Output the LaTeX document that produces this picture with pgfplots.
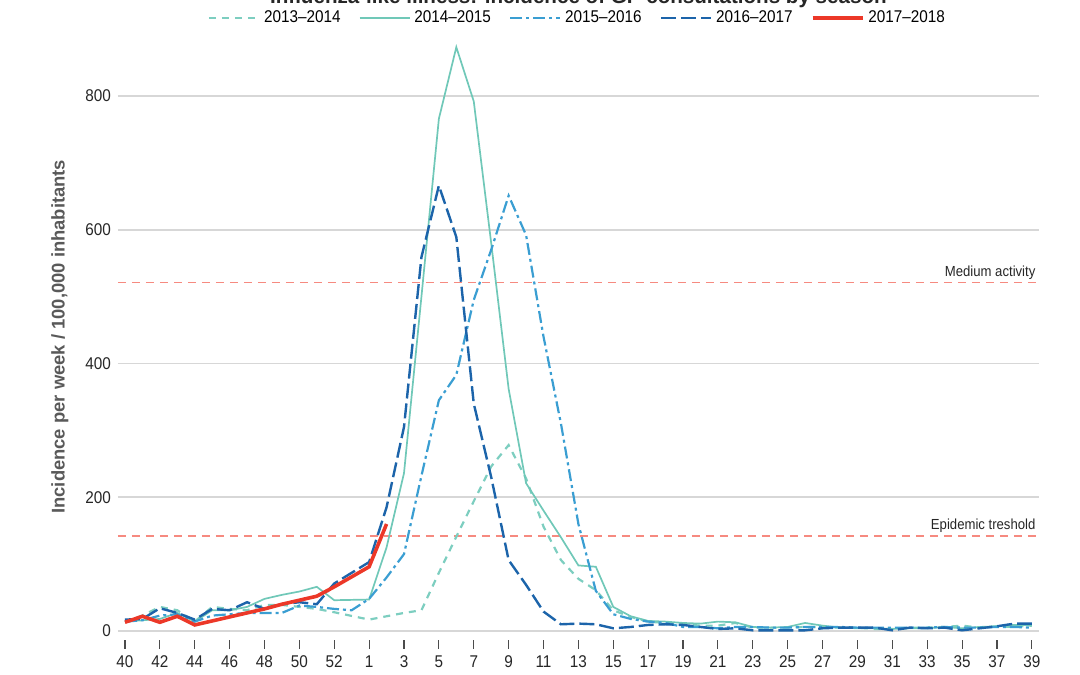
\documentclass[border=0pt]{standalone}
\usepackage{fontspec}
\setmainfont{Liberation Sans}
\newfontfamily\narrow{Liberation Sans}[FakeStretch=0.9, Ligatures=TeX]
\usepackage{pgfplots}
\pgfplotsset{compat=1.18}
\usetikzlibrary{calc}
\definecolor{tealA}{RGB}{125,206,192}
\definecolor{tealB}{RGB}{112,200,184}
\definecolor{blueA}{RGB}{58,158,210}
\definecolor{blueB}{RGB}{28,100,170}
\definecolor{redA}{RGB}{236,56,40}
\definecolor{salmon}{RGB}{246,138,128}
\definecolor{gridg}{RGB}{215,215,215}

\pgfplotstableread{
x y
0 14
1 23
2 36
3 31
4 14
5 36
6 33
7 31
8 39
9 39
10 36
11 33
12 28
14 17
15 22
16 27
17 31
18 87
19 141
20 194
21 246
22 278
23 228
24 156
25 106
26 78
27 61
28 31
29 21
30 14
31 12
32 10
33 8
34 8
35 12
36 5
37 5
38 5
39 6
40 6
41 5
42 5
43 3
44 3
45 5
46 5
47 6
48 8
49 5
50 7
51 6
52 8
}\sA

\pgfplotstableread{
x y
0 14
1 16
2 18
3 27
4 14
5 31
6 31
7 36
8 48
9 54
10 59
11 66
12 46
14 47
15 125
16 236
17 500
18 766
19 873
20 792
21 580
22 362
23 221
24 180
25 140
26 98
27 96
28 36
29 22
30 15
31 14
32 12
33 11
34 14
35 13
36 6
37 5
38 6
39 12
40 8
41 5
42 4
43 4
44 3
45 4
46 4
47 6
48 4
49 6
50 7
51 9
52 9
}\sB

\pgfplotstableread{
x y
0 14
1 16
2 23
3 25
4 14
5 23
6 25
7 27
8 27
9 27
10 38
11 36
12 33
13 31
14 48
15 80
16 115
17 232
18 345
19 383
20 495
21 570
22 651
23 592
24 440
25 310
26 160
27 60
28 25
29 18
30 14
31 12
32 6
33 6
34 4
35 6
36 6
37 5
38 5
39 6
40 6
41 6
42 5
43 5
44 5
45 5
46 5
47 6
48 5
49 5
50 6
51 6
52 5
}\sC

\pgfplotstableread{
x y
0 17
1 18
2 34
3 27
4 17
5 33
6 31
7 43
8 33
9 40
10 43
11 40
12 71
14 103
15 185
16 305
17 559
18 666
19 589
20 340
21 230
22 106
23 69
24 29
25 10
26 11
27 10
28 4
29 6
30 9
31 10
32 9
33 6
34 3
35 4
36 1
37 1
38 1
39 1
40 4
41 5
42 5
43 5
44 1
45 5
46 4
47 5
48 1
49 4
50 7
51 11
52 11
}\sD

\pgfplotstableread{
x y
0 13
1 22
2 13
3 22
4 9
5 15
6 21
7 27
8 33
9 40
10 46
11 52
12 66
14 96
15 160
}\sE

\begin{document}
\begin{tikzpicture}
\begin{axis}[
  name=ax,
  scale only axis,
  width=460.4pt, height=294.25pt,
  xmin=-0.4, xmax=52.4,
  ymin=0, ymax=880,
  axis line style={draw=none},
  ymajorgrids,
  major grid style={draw=gridg, line width=0.8pt},
  ytick={0,200,400,600,800},
  ytick style={draw=none},
  xtick={0,2,...,52},
  xtick pos=lower,
  xticklabels={40,42,44,46,48,50,52,1,3,5,7,9,11,13,15,17,19,21,23,25,27,29,31,33,35,37,39},
  tick align=outside,
  major tick length=4.5pt,
  xtick style={draw=black!70, line width=0.55pt, yshift=-4.5pt},
  xticklabel style={yshift=-4.5pt},
  yticklabel style={xshift=4.5pt},
  ticklabel style={font=\narrow\fontsize{8.5}{10}\selectfont, text=black!85},
  /pgf/number format/assume math mode=true,
  every axis y label/.style={at={(axis description cs:-0.063,0.5)}, rotate=90, anchor=center},
  ylabel={Incidence per week / 100,000 inhabitants},
  ylabel style={font=\bfseries\fontsize{9.2}{11}\selectfont, text=black!65},
  clip=false,
  legend columns=5,
  legend style={at={(0.5,1)}, anchor=center, yshift=12.25pt, draw=none, fill=none,
    font=\narrow\fontsize{8.5}{10}\selectfont,
    /tikz/every even column/.append style={column sep=7pt}},
  legend image code/.code={\draw[#1] (0pt,0pt) -- (25pt,0pt);},
]
\addplot[salmon, line width=0.8pt, dash pattern=on 4pt off 3pt, forget plot] coordinates {(-0.4,521) (52.4,521)};
\addplot[salmon, line width=0.8pt, dash pattern=on 4pt off 3pt, forget plot] coordinates {(-0.4,142) (52.4,142)};
\node[anchor=south east, inner sep=1.5pt, font=\narrow\fontsize{7.3}{9}\selectfont, text=black!85] at (axis cs:52.4,521) {Medium activity};
\node[anchor=south east, inner sep=1.5pt, font=\narrow\fontsize{7.3}{9}\selectfont, text=black!85] at (axis cs:52.4,142) {Epidemic treshold};

\addplot[tealA, line width=1.1pt, dash pattern=on 3.5pt off 3pt] table[x=x,y=y] {\sA};
\addlegendentry{2013–2014}
\addplot[tealB, line width=0.85pt] table[x=x,y=y] {\sB};
\addlegendentry{2014–2015}
\addplot[blueA, line width=1.1pt, dash pattern=on 6pt off 2pt on 1.5pt off 2pt] table[x=x,y=y] {\sC};
\addlegendentry{2015–2016}
\addplot[blueB, line width=1.2pt, dash pattern=on 7.5pt off 2.5pt] table[x=x,y=y] {\sD};
\addlegendentry{2016–2017}
\addplot[redA, line width=1.8pt] table[x=x,y=y] {\sE};
\addlegendentry{2017–2018}
\end{axis}
\node[anchor=base, font=\bfseries\fontsize{10.3}{12}\selectfont, text=black!85] at ([yshift=19.25pt]ax.north) {Influenza-like illness: incidence of GP consultations by season};
\pgfresetboundingbox
\path[use as bounding box] ([xshift=-59pt,yshift=-22pt]ax.south west) rectangle ([xshift=20.6pt,yshift=21.25pt]ax.north east);
\end{tikzpicture}
\end{document}
